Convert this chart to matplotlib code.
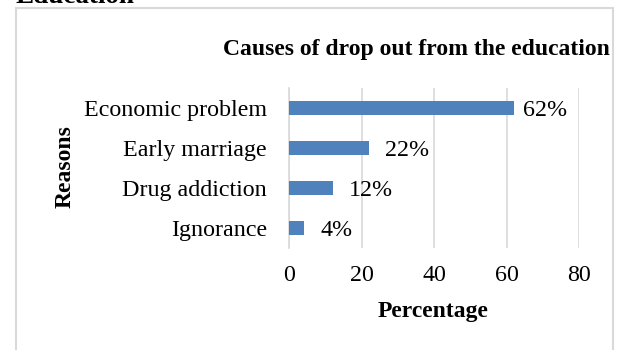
import matplotlib.pyplot as plt
from matplotlib.patches import Rectangle

# chart data
reasons = ['Economic problem', 'Early marriage', 'Drug addiction', 'Ignorance']
percent = [62, 22, 12, 4]
xticks = [0, 20, 40, 60, 80]

plt.rcParams['font.family'] = ['Liberation Serif', 'DejaVu Serif']

fig = plt.figure(figsize=(6.2, 3.5), dpi=100)
W, H = 620, 350

# light grey frame round the chart (bottom runs off the picture)
fig.patches.append(Rectangle((16 / W, -0.1), (613 - 16) / W, 1.1 - 8 / H,
                             transform=fig.transFigure, fill=False,
                             edgecolor='#d9d9d9', linewidth=1.5))

# cut-off heading above the chart (it is cut off in the original too)
fig.text(15 / W, 1 - 3 / H, 'Education', fontsize=19.5, fontweight='bold',
         va='baseline', ha='left')

ax = fig.add_axes([289 / W, 1 - 248 / H, (579 - 289) / W, 160 / H])
ypos = range(len(reasons))
bars = ax.barh(ypos, percent, height=0.36, color='#4f81bd', zorder=3)
ax.set_yticks(list(ypos))
ax.set_yticklabels(reasons)
ax.set_ylim(len(reasons) - 0.5, -0.5)
ax.set_xlim(0, 80)
ax.set_xticks(xticks)

ax.grid(axis='x', color='#d9d9d9', linewidth=1.2, zorder=0)
for s in ['top', 'right', 'bottom']:
    ax.spines[s].set_visible(False)
ax.spines['left'].set_color('#d9d9d9')
ax.spines['left'].set_linewidth(1.2)
ax.tick_params(axis='both', length=0, labelsize=17.3)
ax.tick_params(axis='y', pad=16)
ax.tick_params(axis='x', pad=12)

pads = [7, 12, 12, 12]
for b, v, p in zip(bars, percent, pads):
    ax.annotate(f'{v}%', (b.get_width(), b.get_y() + b.get_height() / 2),
                xytext=(p, -1.5), textcoords='offset points',
                va='center', ha='left', fontsize=17.3)

fig.text(416 / W, 1 - 50 / H, 'Causes of drop out from the education',
         fontsize=17, fontweight='bold', ha='center', va='center')
fig.text(433 / W, 1 - 312 / H, 'Percentage', fontsize=17, fontweight='bold',
         ha='center', va='center')
fig.text(65 / W, 1 - 167 / H, 'Reasons', fontsize=17, fontweight='bold',
         rotation=90, ha='center', va='center')

fig.savefig('out.png', dpi=100)
